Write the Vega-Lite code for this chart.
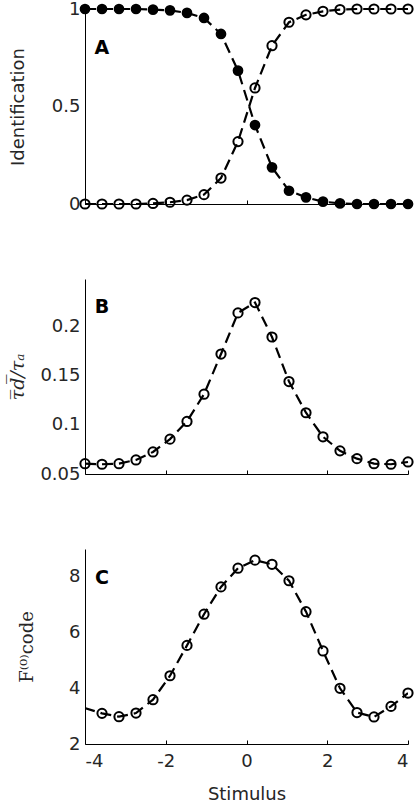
{
  "$schema": "https://vega.github.io/schema/vega-lite/v6.json",
  "padding": {"left": 8, "top": 0, "right": 0, "bottom": 0},
  "background": "white",
  "spacing": 75,
  "bounds": "flush",
  "datasets": {
    "ident": [
      {"x": -4, "value": 1.0, "series": "filled"},
      {"x": -3.5789, "value": 1.0, "series": "filled"},
      {"x": -3.1579, "value": 1.0, "series": "filled"},
      {"x": -2.7368, "value": 1.0, "series": "filled"},
      {"x": -2.3158, "value": 0.997, "series": "filled"},
      {"x": -1.8947, "value": 0.993, "series": "filled"},
      {"x": -1.4737, "value": 0.98, "series": "filled"},
      {"x": -1.0526, "value": 0.954, "series": "filled"},
      {"x": -0.6316, "value": 0.872, "series": "filled"},
      {"x": -0.2105, "value": 0.684, "series": "filled"},
      {"x": 0.2105, "value": 0.405, "series": "filled"},
      {"x": 0.6316, "value": 0.188, "series": "filled"},
      {"x": 1.0526, "value": 0.068, "series": "filled"},
      {"x": 1.4737, "value": 0.034, "series": "filled"},
      {"x": 1.8947, "value": 0.012, "series": "filled"},
      {"x": 2.3158, "value": 0.003, "series": "filled"},
      {"x": 2.7368, "value": 0.0, "series": "filled"},
      {"x": 3.1579, "value": 0.0, "series": "filled"},
      {"x": 3.5789, "value": 0.0, "series": "filled"},
      {"x": 4, "value": 0.0, "series": "filled"},
      {"x": -4, "value": 0.0, "series": "open"},
      {"x": -3.5789, "value": 0.0, "series": "open"},
      {"x": -3.1579, "value": 0.0, "series": "open"},
      {"x": -2.7368, "value": 0.0, "series": "open"},
      {"x": -2.3158, "value": 0.003, "series": "open"},
      {"x": -1.8947, "value": 0.009, "series": "open"},
      {"x": -1.4737, "value": 0.02, "series": "open"},
      {"x": -1.0526, "value": 0.048, "series": "open"},
      {"x": -0.6316, "value": 0.133, "series": "open"},
      {"x": -0.2105, "value": 0.32, "series": "open"},
      {"x": 0.2105, "value": 0.595, "series": "open"},
      {"x": 0.6316, "value": 0.812, "series": "open"},
      {"x": 1.0526, "value": 0.932, "series": "open"},
      {"x": 1.4737, "value": 0.97, "series": "open"},
      {"x": 1.8947, "value": 0.988, "series": "open"},
      {"x": 2.3158, "value": 0.997, "series": "open"},
      {"x": 2.7368, "value": 1.0, "series": "open"},
      {"x": 3.1579, "value": 1.0, "series": "open"},
      {"x": 3.5789, "value": 1.0, "series": "open"},
      {"x": 4, "value": 1.0, "series": "open"}
    ],
    "tau": [
      {"x": -4, "value": 0.0605},
      {"x": -3.5789, "value": 0.0599},
      {"x": -3.1579, "value": 0.0605},
      {"x": -2.7368, "value": 0.0643},
      {"x": -2.3158, "value": 0.0724},
      {"x": -1.8947, "value": 0.0854},
      {"x": -1.4737, "value": 0.1034},
      {"x": -1.0526, "value": 0.131},
      {"x": -0.6316, "value": 0.1718},
      {"x": -0.2105, "value": 0.2136},
      {"x": 0.2105, "value": 0.2241},
      {"x": 0.6316, "value": 0.1891},
      {"x": 1.0526, "value": 0.1439},
      {"x": 1.4737, "value": 0.1122},
      {"x": 1.8947, "value": 0.0878},
      {"x": 2.3158, "value": 0.0735},
      {"x": 2.7368, "value": 0.0656},
      {"x": 3.1579, "value": 0.0605},
      {"x": 3.5789, "value": 0.0599},
      {"x": 4, "value": 0.0622}
    ],
    "fcode": [
      {"x": -4.4211, "value": 3.48},
      {"x": -3.5789, "value": 3.1},
      {"x": -3.1579, "value": 2.98},
      {"x": -2.7368, "value": 3.11},
      {"x": -2.3158, "value": 3.59},
      {"x": -1.8947, "value": 4.45},
      {"x": -1.4737, "value": 5.54},
      {"x": -1.0526, "value": 6.66},
      {"x": -0.6316, "value": 7.64},
      {"x": -0.2105, "value": 8.31},
      {"x": 0.2105, "value": 8.6},
      {"x": 0.6316, "value": 8.45},
      {"x": 1.0526, "value": 7.86},
      {"x": 1.4737, "value": 6.75},
      {"x": 1.8947, "value": 5.34},
      {"x": 2.3158, "value": 4.0},
      {"x": 2.7368, "value": 3.13},
      {"x": 3.1579, "value": 2.97},
      {"x": 3.5789, "value": 3.35},
      {"x": 4, "value": 3.83}
    ],
    "labels": [
      {"panel": "A", "x": -3.58, "y": 0.8},
      {"panel": "B", "x": -3.58, "y": 0.2197},
      {"panel": "C", "x": -3.58, "y": 7.96}
    ]
  },
  "config": {
    "view": {"stroke": null},
    "font": "DejaVu Sans",
    "axis": {
      "grid": false,
      "domainColor": "#000000",
      "domainWidth": 1,
      "tickColor": "#000000",
      "labelFont": "DejaVu Sans",
      "labelFontSize": 18,
      "labelColor": "#262626",
      "titleFont": "DejaVu Sans",
      "titleFontSize": 18,
      "titleFontWeight": "normal",
      "titleColor": "#262626"
    },
    "axisY": {"ticks": false, "labelPadding": 5},
    "axisX": {"tickSize": -4, "tickWidth": 1}
  },
  "vconcat": [
    {
      "width": 323,
      "height": 195,
      "data": {"name": "ident"},
      "encoding": {
        "x": {"field": "x", "type": "quantitative", "scale": {"domain": [-4, 4], "nice": false},
              "axis": {"values": [-4, -2, 0, 2, 4], "labels": false, "title": null}},
        "y": {"field": "value", "type": "quantitative", "scale": {"domain": [0, 1], "nice": false},
              "axis": {"values": [0, 0.5, 1], "format": ".1~f", "title": "Identification", "titlePadding": 24}}
      },
      "layer": [
        {"mark": {"type": "line", "color": "#000000", "strokeWidth": 2.2, "strokeDash": [11, 6], "clip": false},
         "encoding": {"detail": {"field": "series"}}},
        {"transform": [{"filter": "datum.series == 'filled'"}],
         "mark": {"type": "point", "shape": "circle", "filled": true, "color": "#000000", "size": 115, "opacity": 1}},
        {"transform": [{"filter": "datum.series == 'open'"}],
         "mark": {"type": "point", "shape": "circle", "filled": false, "color": "#000000", "size": 85, "strokeWidth": 2, "opacity": 1}},
        {"data": {"name": "labels"},
         "transform": [{"filter": "datum.panel == 'A'"}],
         "mark": {"type": "text", "fontSize": 19, "fontWeight": "bold", "font": "DejaVu Sans", "color": "#000000"},
         "encoding": {"x": {"field": "x", "type": "quantitative"}, "y": {"field": "y", "type": "quantitative"}, "text": {"field": "panel"}}}
      ]
    },
    {
      "width": 323,
      "height": 195,
      "data": {"name": "tau"},
      "encoding": {
        "x": {"field": "x", "type": "quantitative", "scale": {"domain": [-4, 4], "nice": false},
              "axis": {"values": [-4, -2, 0, 2, 4], "labels": false, "title": null}},
        "y": {"field": "value", "type": "quantitative", "scale": {"domain": [0.05, 0.248], "nice": false, "zero": false},
              "axis": {"values": [0.05, 0.1, 0.15, 0.2], "format": ".2~f", "title": "τ̅d̅/τₐ", "titleFont": "DejaVu Serif", "titleFontStyle": "italic", "titleFontSize": 19, "titlePadding": 12}}
      },
      "layer": [
        {"mark": {"type": "line", "color": "#000000", "strokeWidth": 2.2, "strokeDash": [11, 6]}},
        {"mark": {"type": "point", "shape": "circle", "filled": false, "color": "#000000", "size": 85, "strokeWidth": 2, "opacity": 1}},
        {"data": {"name": "labels"},
         "transform": [{"filter": "datum.panel == 'B'"}],
         "mark": {"type": "text", "fontSize": 19, "fontWeight": "bold", "font": "DejaVu Sans", "color": "#000000"},
         "encoding": {"x": {"field": "x", "type": "quantitative"}, "y": {"field": "y", "type": "quantitative"}, "text": {"field": "panel"}}}
      ]
    },
    {
      "width": 323,
      "height": 195,
      "data": {"name": "fcode"},
      "encoding": {
        "x": {"field": "x", "type": "quantitative", "scale": {"domain": [-4, 4], "nice": false},
              "axis": {"values": [-4, -2, 0, 2, 4], "labelExpr": "'' + datum.value", "title": "Stimulus", "labelPadding": 12, "titlePadding": 15}},
        "y": {"field": "value", "type": "quantitative", "scale": {"domain": [2, 9], "nice": false, "zero": false},
              "axis": {"values": [2, 4, 6, 8], "title": "F⁽⁰⁾code", "titleFont": "DejaVu Serif", "titleFontSize": 18, "titlePadding": 32}}
      },
      "layer": [
        {"mark": {"type": "line", "color": "#000000", "strokeWidth": 2.2, "strokeDash": [11, 6], "clip": true}},
        {"transform": [{"filter": "datum.x >= -4.001"}],
         "mark": {"type": "point", "shape": "circle", "filled": false, "color": "#000000", "size": 85, "strokeWidth": 2, "opacity": 1}},
        {"data": {"name": "labels"},
         "transform": [{"filter": "datum.panel == 'C'"}],
         "mark": {"type": "text", "fontSize": 19, "fontWeight": "bold", "font": "DejaVu Sans", "color": "#000000"},
         "encoding": {"x": {"field": "x", "type": "quantitative"}, "y": {"field": "y", "type": "quantitative"}, "text": {"field": "panel"}}}
      ]
    }
  ]
}
